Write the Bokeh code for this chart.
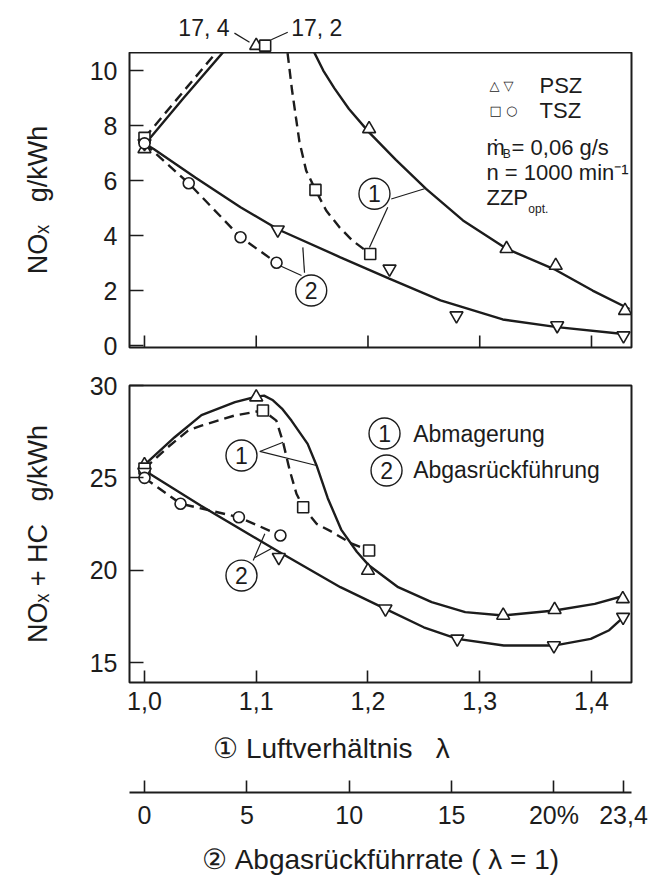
import math
from bokeh.plotting import figure
from bokeh.models import Range1d, FixedTicker, Label
from bokeh.layouts import column
from bokeh.embed import file_html
from bokeh.resources import INLINE

# ---------------- data ----------------
# upper panel: NOx [g/kWh]
# (1) Abmagerung, x = lambda
PSZ_LEAN_LAM = [1.0, 1.1, 1.201, 1.324, 1.368, 1.43]
PSZ_LEAN_NOX = [7.15, 17.4, 7.88, 3.52, 2.91, 1.27]
TSZ_LEAN_LAM = [1.0, 1.108, 1.153, 1.202]
TSZ_LEAN_NOX = [7.55, 17.2, 5.66, 3.33]
# (2) Abgasrueckfuehrung, x = rate in %
PSZ_EGR_PCT = [0, 6.51, 11.97, 15.24, 20.16, 23.4]
PSZ_EGR_NOX = [7.35, 4.21, 2.79, 1.09, 0.73, 0.36]
TSZ_EGR_PCT = [0, 2.16, 4.69, 6.45]
TSZ_EGR_NOX = [7.35, 5.9, 3.94, 3.01]

# fitted curves of the upper panel (they run off the scale around the peak)
C_PSZ_LEAN_LAM = [1.0, 1.035, 1.07, 1.1, 1.152, 1.16, 1.17, 1.183, 1.201, 1.225, 1.252, 1.285, 1.324, 1.368, 1.401, 1.434]
C_PSZ_LEAN_NOX = [7.3, 9.0, 10.65, 17.4, 10.65, 10.0, 9.35, 8.6, 7.75, 6.75, 5.70, 4.55, 3.52, 2.75, 2.0, 1.33]
C_TSZ_LEAN_LAM = [1.0, 1.064, 1.108, 1.128, 1.132, 1.1355, 1.1387, 1.1447, 1.153, 1.1626, 1.1745, 1.186, 1.202]
C_TSZ_LEAN_NOX = [7.55, 10.65, 17.2, 10.65, 9.3, 8.3, 7.4, 6.36, 5.66, 4.91, 4.30, 3.82, 3.33]
C_PSZ_EGR_PCT = [0, 0.45, 2.5, 4.69, 6.56, 9.57, 11.93, 14.46, 17.5, 20.16, 23.4]
C_PSZ_EGR_NOX = [7.35, 7.15, 6.1, 5.03, 4.21, 3.21, 2.44, 1.64, 0.95, 0.67, 0.42]
C_TSZ_EGR_PCT = [0, 2.16, 4.69, 6.45]
C_TSZ_EGR_NOX = [7.35, 5.9, 3.94, 3.01]

# lower panel: NOx + HC [g/kWh]
PSZ_LEAN_LAM_B = [1.0, 1.1, 1.2, 1.321, 1.367, 1.428]
PSZ_LEAN_SUM = [25.7, 29.37, 19.98, 17.55, 17.86, 18.45]
TSZ_LEAN_LAM_B = [1.0, 1.106, 1.142, 1.201]
TSZ_LEAN_SUM = [25.5, 28.65, 23.41, 21.07]
PSZ_EGR_PCT_B = [0, 6.56, 11.77, 15.28, 20.0, 23.38]
PSZ_EGR_SUM = [25.3, 20.7, 17.91, 16.28, 15.92, 17.46]
TSZ_EGR_PCT_B = [0, 1.76, 4.61, 6.64]
TSZ_EGR_SUM = [25.0, 23.6, 22.87, 21.88]

C_PSZ_LEAN_LAM_B = [1.0, 1.027, 1.051, 1.081, 1.1, 1.107, 1.115, 1.123, 1.1315, 1.146, 1.154, 1.164, 1.176, 1.19, 1.201, 1.227, 1.257, 1.287, 1.321, 1.367, 1.403, 1.43]
C_PSZ_LEAN_SUM = [25.7, 27.2, 28.4, 29.1, 29.4, 29.45, 29.2, 28.75, 28.1, 26.84, 25.67, 23.9, 22.2, 21.0, 20.25, 19.08, 18.27, 17.73, 17.55, 17.82, 18.18, 18.63]
C_TSZ_LEAN_LAM_B = [1.0, 1.021, 1.039, 1.051, 1.081, 1.106, 1.118, 1.124, 1.130, 1.136, 1.142, 1.154, 1.167, 1.185, 1.201]
C_TSZ_LEAN_SUM = [25.5, 26.66, 27.56, 27.83, 28.38, 28.65, 28.1, 26.93, 25.4, 24.14, 23.41, 22.51, 22.1, 21.45, 21.07]
C_PSZ_EGR_PCT_B = [0, 2.74, 6.56, 9.57, 11.77, 13.64, 15.28, 17.55, 20.0, 21.8, 22.7, 23.4]
C_PSZ_EGR_SUM = [25.4, 23.5, 21.0, 19.08, 17.91, 16.91, 16.28, 15.92, 15.92, 16.28, 16.75, 17.46]
C_TSZ_EGR_PCT_B = [0, 1.76, 4.61, 6.64]
C_TSZ_EGR_SUM = [25.0, 23.6, 22.87, 21.88]

LAM_TICKS = [1.0, 1.1, 1.2, 1.3, 1.4]
LAM_LABELS = ["1,0", "1,1", "1,2", "1,3", "1,4"]
NOX_TICKS = [0, 2, 4, 6, 8, 10]
SUM_TICKS = [15, 20, 25, 30]
PCT_TICKS = [0, 5, 10, 15, 20, 23.4]
PCT_LABELS = ["0", "5", "10", "15", "20%", "23,4"]

# ---------------- layout constants ----------------
FONT = "Liberation Sans"
INK = "#1c1c1c"
NB = "\u00a0"
LAM_RANGE = (0.9866, 1.4358)
PCT_RANGE = (-0.733, 23.79)
NOX_RANGE = (-0.07, 10.655)
NOX_PX = 27.5            # px per g/kWh in the upper panel
SUM_RANGE = (13.92, 30.0)
OFF = 0.25
LEFT, FRAME_W, RIGHT = 129, 502, 22


def style_axis(ax, size, tick_in, standoff):
    ax.major_tick_in = tick_in
    ax.major_tick_out = 0
    ax.minor_tick_line_color = None
    ax.major_tick_line_color = INK
    ax.major_tick_line_width = 1.6
    ax.major_label_text_font = FONT
    ax.major_label_text_font_size = size
    ax.major_label_text_color = INK
    ax.major_label_standoff = standoff
    ax.axis_line_color = None


def title_axis(ax, text, size, standoff):
    ax.axis_label = text
    ax.axis_label_text_font = FONT
    ax.axis_label_text_font_size = size
    ax.axis_label_text_font_style = "normal"
    ax.axis_label_text_color = INK
    ax.axis_label_standoff = standoff


def lab(p, x, y, text, size="22px", align="left", base="middle", font=FONT):
    p.add_layout(Label(x=x, y=y, text=text, text_font=font, text_font_size=size,
                       text_align=align, text_baseline=base, text_color=INK))


def callout(p, x, y, digit):
    p.scatter([x], [y], marker="circle", size=31, fill_color="white",
              line_color=INK, line_width=1.4)
    lab(p, x, y, digit, size="23px", align="center")


def markers(p, xs, ys, kind, size, **kw):
    p.scatter(xs, ys, marker=kind, size=size, fill_color="white",
              line_color=INK, line_width=1.6, **kw)


def bare(p):
    p.outline_line_color = None
    p.grid.visible = False


# ---------------- strip above the upper panel (off-scale values) ----------------
p0 = figure(frame_width=FRAME_W, frame_height=52, min_border_left=LEFT, min_border_right=RIGHT,
            min_border_top=0, min_border_bottom=0,
            x_range=Range1d(*LAM_RANGE),
            y_range=Range1d(NOX_RANGE[1], NOX_RANGE[1] + 52 / NOX_PX),
            x_axis_location=None, y_axis_location=None,
            output_backend="svg", toolbar_location=None)
bare(p0)
p0.segment(x0=[1.0805, 1.1134], y0=[11.36, 11.12], x1=[1.094, 1.1282], y1=[11.03, 11.39],
           line_width=1.2, color=INK)
for xs, ys, kind, size in [(PSZ_LEAN_LAM, PSZ_LEAN_NOX, "triangle", 13),
                           (TSZ_LEAN_LAM, TSZ_LEAN_NOX, "square", 11)]:
    ox = [x for x, v in zip(xs, ys) if v > NOX_RANGE[1]]
    oy = [NOX_RANGE[1] + OFF for v in ys if v > NOX_RANGE[1]]
    markers(p0, ox, oy, kind, size)
lab(p0, 1.0761, 11.53, f"{PSZ_LEAN_NOX[1]:.1f}".replace(".", ", "), size="23px", align="right")
lab(p0, 1.1313, 11.53, f"{TSZ_LEAN_NOX[1]:.1f}".replace(".", ", "), size="23px", align="left")

# ---------------- upper panel ----------------
p1 = figure(frame_width=FRAME_W, frame_height=295, min_border_left=LEFT, min_border_right=RIGHT,
            min_border_top=0, min_border_bottom=22,
            x_range=Range1d(*LAM_RANGE), y_range=Range1d(*NOX_RANGE),
            x_axis_location=None,
            output_backend="svg", toolbar_location=None)
p1.extra_x_ranges = {"pct": Range1d(*PCT_RANGE)}
p1.grid.visible = False
p1.outline_line_color = INK
p1.outline_line_width = 2
p1.yaxis.ticker = FixedTicker(ticks=NOX_TICKS)
style_axis(p1.yaxis[0], "25px", 14, 12)
title_axis(p1.yaxis[0], "NO\u2093" + NB * 3 + "g/kWh", "27px", 34)
# inward ticks of the lambda scale (no labels on the upper panel)
p1.segment(x0=LAM_TICKS, x1=LAM_TICKS, y0=[NOX_RANGE[0]] * len(LAM_TICKS),
           y1=[NOX_RANGE[0] + 12 / NOX_PX] * len(LAM_TICKS), line_width=1.6, color=INK)

p1.line(C_PSZ_LEAN_LAM, C_PSZ_LEAN_NOX, line_width=2.4, color=INK)
p1.line(C_TSZ_LEAN_LAM, C_TSZ_LEAN_NOX, line_width=2.4, color=INK, line_dash="10 6")
p1.line(C_PSZ_EGR_PCT, C_PSZ_EGR_NOX, line_width=2.4, color=INK, x_range_name="pct")
p1.line(C_TSZ_EGR_PCT, C_TSZ_EGR_NOX, line_width=2.4, color=INK, line_dash="10 6", x_range_name="pct")

p1.segment(x0=[1.2208, 1.2177, 1.1432, 1.1405],
           y0=[5.33, 5.03, 2.65, 2.55],
           x1=[1.2506, 1.2013, 1.1417, 1.1208],
           y1=[5.70, 3.57, 3.57, 2.91], line_width=1.2, color=INK)

markers(p1, PSZ_LEAN_LAM, PSZ_LEAN_NOX, "triangle", 13)
markers(p1, TSZ_LEAN_LAM, TSZ_LEAN_NOX, "square", 11)
markers(p1, PSZ_EGR_PCT, PSZ_EGR_NOX, "inverted_triangle", 13, x_range_name="pct")
markers(p1, TSZ_EGR_PCT, TSZ_EGR_NOX, "circle", 11, x_range_name="pct")

callout(p1, 1.2058, 5.52, "1")
callout(p1, 1.1492, 2.0, "2")

# legend block
lab(p1, 1.3087, 9.47, "\u25b3 \u25bd", size="13px", font="DejaVu Sans")
lab(p1, 1.3535, 9.455, "PSZ", size="22px")
lab(p1, 1.3087, 8.56, "\u25a1 \u25cb", size="13px", font="DejaVu Sans")
lab(p1, 1.3535, 8.545, "TSZ", size="22px")
lab(p1, 1.306, 7.2, "\u1e41", size="22px")
lab(p1, 1.3205, 6.95, "B", size="12px")
lab(p1, 1.3285, 7.2, "= 0,06 g/s", size="22px")
lab(p1, 1.306, 6.29, "n = 1000 min\u207b\u00b9", size="22px")
lab(p1, 1.306, 5.38, "ZZP", size="22px")
lab(p1, 1.3435, 4.95, "opt.", size="12px")

# ---------------- lower panel ----------------
p2 = figure(frame_width=FRAME_W, frame_height=297, min_border_left=LEFT, min_border_right=RIGHT,
            min_border_top=16, min_border_bottom=40,
            x_range=Range1d(*LAM_RANGE), y_range=Range1d(*SUM_RANGE),
            output_backend="svg", toolbar_location=None)
p2.extra_x_ranges = {"pct": Range1d(*PCT_RANGE)}
p2.outline_line_color = INK
p2.outline_line_width = 2
p2.grid.visible = False
p2.xaxis.ticker = FixedTicker(ticks=LAM_TICKS)
p2.xaxis.major_label_overrides = dict(zip(LAM_TICKS, LAM_LABELS))
style_axis(p2.xaxis[0], "25px", 12, 9)
p2.yaxis.ticker = FixedTicker(ticks=SUM_TICKS)
style_axis(p2.yaxis[0], "25px", 14, 12)
title_axis(p2.yaxis[0], "NO\u2093" + NB + "+" + NB + "HC" + NB * 3 + "g/kWh", "27px", 34)

p2.line(C_PSZ_LEAN_LAM_B, C_PSZ_LEAN_SUM, line_width=2.4, color=INK)
p2.line(C_TSZ_LEAN_LAM_B, C_TSZ_LEAN_SUM, line_width=2.4, color=INK, line_dash="10 6")
p2.line(C_PSZ_EGR_PCT_B, C_PSZ_EGR_SUM, line_width=2.4, color=INK, x_range_name="pct")
p2.line(C_TSZ_EGR_PCT_B, C_TSZ_EGR_SUM, line_width=2.4, color=INK, line_dash="10 6", x_range_name="pct")

p2.segment(x0=[1.1032, 1.1032, 1.0973, 1.0987],
           y0=[26.43, 26.43, 20.53, 20.69],
           x1=[1.1241, 1.1539, 1.1077, 1.1137],
           y1=[26.93, 25.67, 21.97, 21.18], line_width=1.2, color=INK)

markers(p2, PSZ_LEAN_LAM_B, PSZ_LEAN_SUM, "triangle", 13)
markers(p2, TSZ_LEAN_LAM_B, TSZ_LEAN_SUM, "square", 11)
markers(p2, PSZ_EGR_PCT_B, PSZ_EGR_SUM, "inverted_triangle", 13, x_range_name="pct")
markers(p2, TSZ_EGR_PCT_B, TSZ_EGR_SUM, "circle", 11, x_range_name="pct")

callout(p2, 1.0868, 26.21, "1")
callout(p2, 1.0868, 19.71, "2")
callout(p2, 1.2148, 27.4, "1")
callout(p2, 1.2166, 25.4, "2")
lab(p2, 1.2404, 27.4, "Abmagerung", size="23px")
lab(p2, 1.2404, 25.4, "Abgasrückführung", size="23px")

# ---------------- strip with the lambda title ----------------
pt = figure(frame_width=FRAME_W, frame_height=56, min_border_left=LEFT, min_border_right=RIGHT,
            min_border_top=0, min_border_bottom=0,
            x_range=Range1d(*LAM_RANGE), y_range=Range1d(0, 1),
            x_axis_location=None, y_axis_location=None,
            output_backend="svg", toolbar_location=None)
bare(pt)
lab(pt, 1.1673, 0.54, "\u2460" + NB + "Luftverhältnis" + NB * 3 + "\u03bb", size="28px", align="center")

# ---------------- second abscissa ----------------
p3 = figure(frame_width=FRAME_W, frame_height=14, min_border_left=LEFT, min_border_right=RIGHT,
            min_border_top=0, min_border_bottom=0,
            x_range=Range1d(*PCT_RANGE), y_range=Range1d(0, 1),
            y_axis_location=None, output_backend="svg", toolbar_location=None)
bare(p3)
ax3 = p3.xaxis[0]
ax3.ticker = FixedTicker(ticks=PCT_TICKS)
ax3.major_label_overrides = dict(zip(PCT_TICKS, PCT_LABELS))
style_axis(ax3, "25px", 12, 8)
ax3.axis_line_color = INK
ax3.axis_line_width = 2
title_axis(ax3, "\u2461" + NB + "Abgasrückführrate" + NB + "(" + NB + "\u03bb" + NB + "=" + NB + "1)", "28px", 12)

layout = column(p0, p1, p2, pt, p3)
open("out.html", "w").write(file_html(layout, INLINE))
